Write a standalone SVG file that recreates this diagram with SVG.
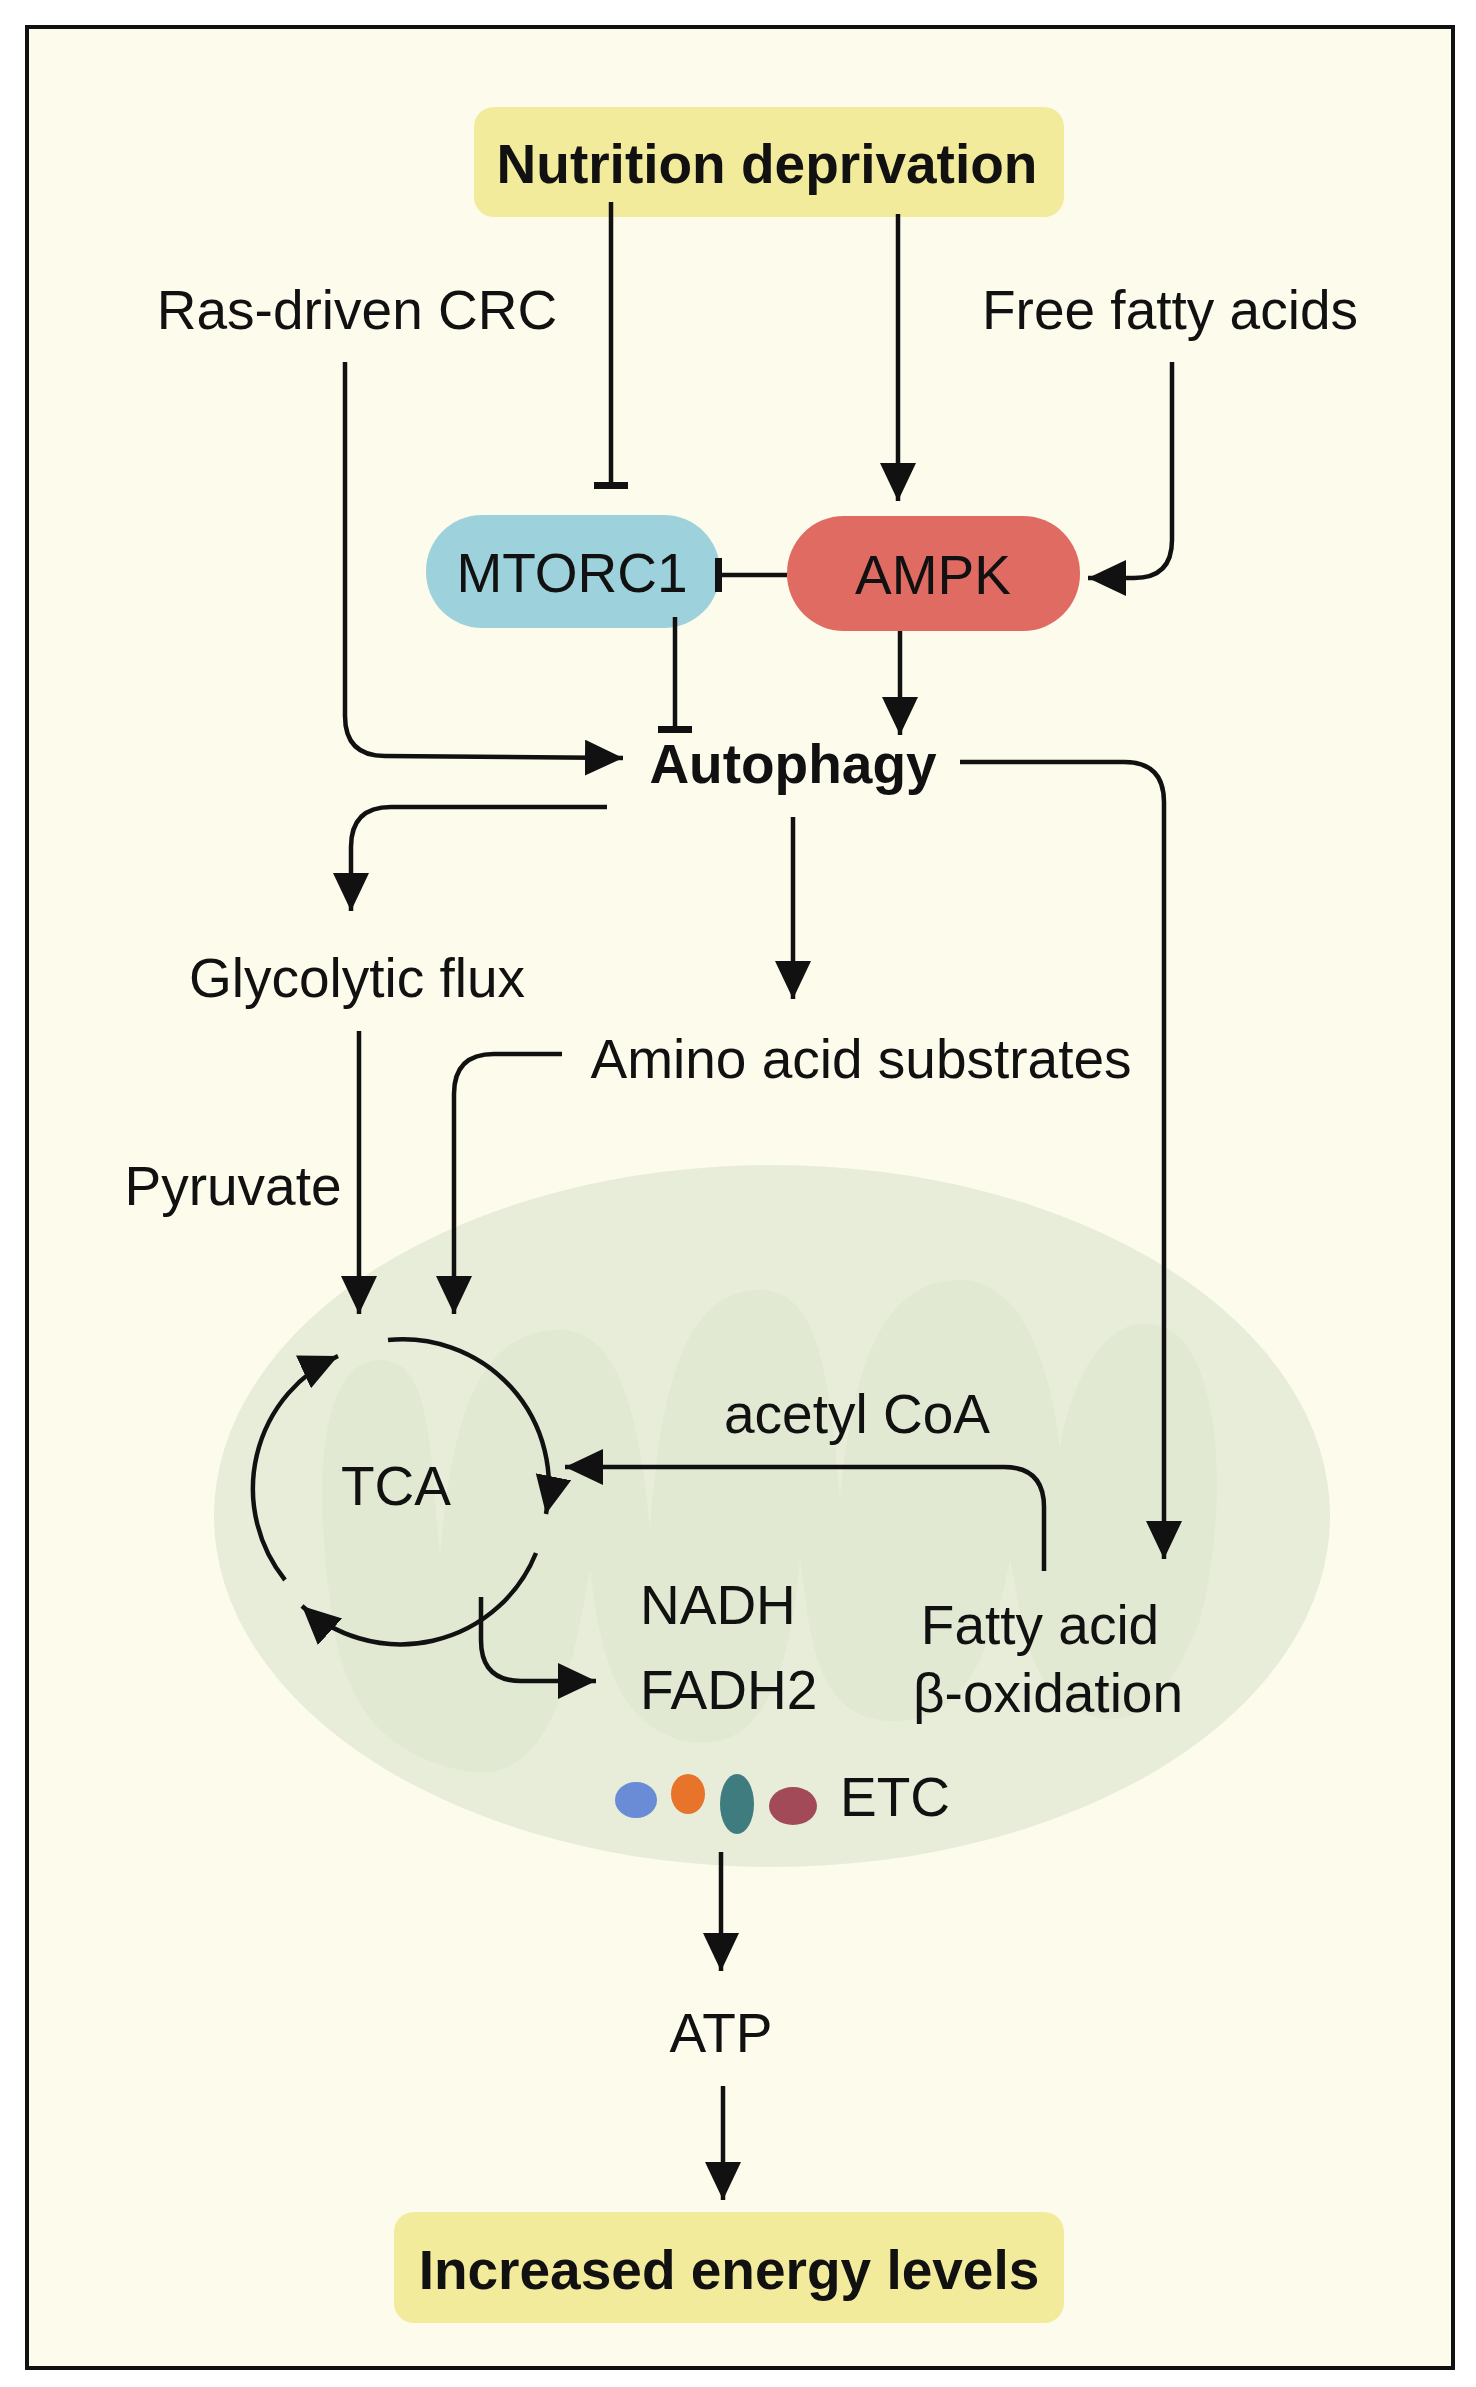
<svg xmlns="http://www.w3.org/2000/svg" width="1476" height="2387" viewBox="0 0 1476 2387">
<style>
text{font-family:"Liberation Sans",Arial,sans-serif;fill:#111;}
.t{font-size:55px;}
.b{font-size:55px;font-weight:bold;}
.c{fill:none;stroke:#111;stroke-width:4.5;}
</style>
<defs>
<marker id="ar" markerUnits="userSpaceOnUse" markerWidth="42" markerHeight="38" refX="38" refY="18" orient="auto"><path d="M0,0 L38,18 L0,36 z" fill="#111"/></marker>
<marker id="tb" markerUnits="userSpaceOnUse" markerWidth="8" markerHeight="34" refX="4" refY="17" orient="auto"><rect x="0" y="0" width="7" height="34" fill="#111"/></marker>
</defs>
<rect x="27" y="27" width="1426" height="2341" fill="#fdfbec" stroke="#111" stroke-width="4"/>
<g id="mito">
<ellipse cx="772" cy="1516" rx="558" ry="351" fill="#e8edda"/>
<path d="M330,1600 C310,1450 330,1360 380,1360 C430,1360 430,1440 440,1560 C450,1440 470,1330 560,1330 C620,1330 640,1420 650,1530 C660,1400 680,1290 760,1290 C820,1290 830,1380 840,1500 C850,1400 870,1280 960,1280 C1020,1280 1050,1360 1060,1450 C1070,1380 1110,1300 1170,1330 C1220,1360 1230,1500 1200,1620 C1160,1720 1120,1740 1060,1700 C1020,1660 1020,1600 1010,1560 C990,1660 960,1730 880,1720 C810,1710 810,1620 800,1560 C790,1660 770,1760 680,1740 C610,1720 600,1640 590,1570 C570,1680 550,1790 460,1770 C370,1750 340,1690 330,1600 z" fill="#dfe7cf" opacity="0.8"/>
</g>
<g id="nutrition"><rect x="474" y="107" width="590" height="110" rx="20" fill="#f2eb9c"/><text class="b" x="767" y="183" text-anchor="middle">Nutrition deprivation</text></g>
<g id="ras"><text class="t" x="357" y="329" text-anchor="middle">Ras-driven CRC</text></g>
<g id="ffa"><text class="t" x="1170" y="329" text-anchor="middle">Free fatty acids</text></g>
<g id="mtorc1"><rect x="426" y="515" width="294" height="113" rx="56" fill="#9dd1dc"/><text class="t" x="572" y="592" text-anchor="middle">MTORC1</text></g>
<g id="ampk"><rect x="787" y="516" width="293" height="115" rx="57" fill="#e06b62"/><text class="t" x="933" y="594" text-anchor="middle">AMPK</text></g>
<g id="autophagy"><text class="b" x="793" y="783" text-anchor="middle">Autophagy</text></g>
<g id="glyco"><text class="t" x="357" y="997" text-anchor="middle">Glycolytic flux</text></g>
<g id="amino"><text class="t" x="861" y="1078" text-anchor="middle">Amino acid substrates</text></g>
<g id="pyruvate"><text class="t" x="233" y="1205" text-anchor="middle">Pyruvate</text></g>
<g id="tca"><text class="t" x="396" y="1505" text-anchor="middle">TCA</text></g>
<g id="acetyl"><text class="t" x="857" y="1433" text-anchor="middle">acetyl CoA</text></g>
<g id="nadh"><text class="t" x="640" y="1624">NADH</text><text class="t" x="640" y="1709">FADH2</text></g>
<g id="fao"><text class="t" x="1040" y="1644" text-anchor="middle">Fatty acid</text><text class="t" x="1048" y="1712" text-anchor="middle">β-oxidation</text></g>
<g id="etc">
<ellipse cx="636" cy="1800" rx="21" ry="18" fill="#6a8bd6"/>
<ellipse cx="688" cy="1794" rx="17" ry="20" fill="#e8732a"/>
<ellipse cx="737" cy="1804" rx="17" ry="30" fill="#3e7c7f"/>
<ellipse cx="793" cy="1806" rx="24" ry="19" fill="#a24a58"/>
<text class="t" x="840" y="1816">ETC</text>
</g>
<g id="atp"><text class="t" x="721" y="2052" text-anchor="middle">ATP</text></g>
<g id="energy"><rect x="394" y="2212" width="670" height="111" rx="20" fill="#f2eb9c"/><text class="b" x="729" y="2289" text-anchor="middle">Increased energy levels</text></g>
<g id="connectors" class="c">
<path class="c" d="M611,202 V486" marker-end="url(#tb)"/>
<path class="c" d="M898,214 V501" marker-end="url(#ar)"/>
<path class="c" d="M1172,362 V540 Q1172,578 1134,578 H1088" marker-end="url(#ar)"/>
<path class="c" d="M787,575 H718" marker-end="url(#tb)"/>
<path class="c" d="M675,617 V730" marker-end="url(#tb)"/>
<path class="c" d="M900,631 V735" marker-end="url(#ar)"/>
<path class="c" d="M345,362 V716 Q345,756 385,756 L623,758" marker-end="url(#ar)"/>
<path class="c" d="M960,762 H1124 Q1164,762 1164,802 V1559" marker-end="url(#ar)"/>
<path class="c" d="M607,807 H391 Q351,807 351,847 V911" marker-end="url(#ar)"/>
<path class="c" d="M793,817 V999" marker-end="url(#ar)"/>
<path class="c" d="M359,1031 V1314" marker-end="url(#ar)"/>
<path class="c" d="M562,1054 H494 Q454,1054 454,1094 V1314" marker-end="url(#ar)"/>
<path class="c" d="M388,1340 A146,146 0 0 1 546,1514" marker-end="url(#ar)"/>
<path class="c" d="M536,1553 A146,146 0 0 1 302,1606" marker-end="url(#ar)"/>
<path class="c" d="M285,1580 A146,146 0 0 1 338,1356" marker-end="url(#ar)"/>
<path class="c" d="M1044,1571 V1507 Q1044,1467 1004,1467 H565" marker-end="url(#ar)"/>
<path class="c" d="M481,1597 V1640 Q481,1681 521,1681 H596" marker-end="url(#ar)"/>
<path class="c" d="M721,1852 V1971" marker-end="url(#ar)"/>
<path class="c" d="M723,2086 V2200" marker-end="url(#ar)"/>
</g>
</svg>
